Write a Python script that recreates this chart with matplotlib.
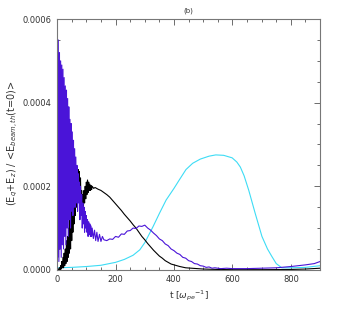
import numpy as np
import matplotlib
matplotlib.use('Agg')
import matplotlib.pyplot as plt
from matplotlib.ticker import MultipleLocator

## values, in units of 1e-4
t_blue = [0, 2, 4, 6, 8, 10, 12, 14, 16, 18, 20, 22, 24, 26, 28, 30, 32, 34, 36, 38,
          40, 42, 44, 46, 48, 50, 52, 54, 56, 58, 60, 62, 64, 66, 68, 70, 72, 74, 76, 78,
          80, 82, 84, 86, 88, 90, 92, 94, 96, 98, 100, 102, 104, 106, 108, 110, 112, 114,
          116, 118, 120, 124, 128, 132, 136, 140, 145, 150, 155, 160, 170, 180, 190, 200,
          210, 220, 230, 240, 250, 260, 270, 280, 290, 300, 310, 320, 330, 340, 350, 360,
          370, 380, 390, 400, 410, 420, 430, 440, 450, 460, 470, 480, 490, 500, 510, 520,
          530, 540, 560, 580, 600, 650, 700, 750, 800, 850, 880, 900]
e_blue = [5.7, 0.3, 5.5, 0.2, 5.2, 0.5, 5.0, 0.3, 4.9, 0.6, 4.8, 0.5, 4.6, 0.8, 4.4, 0.6,
          4.3, 1.0, 4.1, 0.8, 3.9, 1.2, 3.6, 1.0, 3.5, 1.4, 3.3, 1.3, 3.1, 1.5, 2.9, 1.5,
          2.7, 1.6, 2.5, 1.4, 2.3, 1.6, 2.1, 1.2, 2.0, 1.3, 1.8, 1.0, 1.6, 1.1, 1.5, 0.9,
          1.4, 1.0, 1.3, 0.9, 1.2, 0.8, 1.15, 0.85, 1.1, 0.8, 1.05, 0.8, 1.0, 0.75, 0.95,
          0.7, 0.9, 0.68, 0.85, 0.68, 0.8, 0.72, 0.7, 0.74, 0.73, 0.8, 0.78, 0.86, 0.85,
          0.93, 0.94, 1.0, 0.99, 1.05, 1.04, 1.07, 1.0, 0.95, 0.88, 0.82, 0.74, 0.7, 0.62,
          0.58, 0.5, 0.46, 0.4, 0.37, 0.3, 0.28, 0.22, 0.2, 0.15, 0.14, 0.1, 0.09, 0.06,
          0.07, 0.04, 0.05, 0.03, 0.04, 0.03, 0.03, 0.04, 0.05, 0.08, 0.12, 0.15, 0.2]

t_black = [0, 2, 4, 6, 8, 10, 12, 14, 16, 18, 20, 22, 24, 26, 28, 30, 32, 34, 36, 38,
           40, 42, 44, 46, 48, 50, 52, 54, 56, 58, 60, 62, 64, 66, 68, 70, 72, 74, 76, 78,
           80, 82, 84, 86, 88, 90, 92, 94, 96, 98, 100, 102, 104, 106, 108, 110, 112, 114,
           116, 118, 120, 125, 130, 140, 150, 160, 170, 180, 190, 200, 210, 220, 230, 240,
           250, 260, 270, 280, 290, 300, 310, 320, 330, 340, 350, 360, 370, 380, 390, 400,
           420, 440, 460, 480, 500, 550, 600, 700, 800, 850, 900]
e_black = [0, 0, 0.02, 0.0, 0.05, 0.0, 0.1, 0.02, 0.2, 0.05, 0.3, 0.05, 0.4, 0.1, 0.5, 0.15,
           0.7, 0.2, 0.8, 0.3, 1.0, 0.4, 1.2, 0.5, 1.4, 0.7, 1.6, 0.9, 1.8, 1.1, 2.0, 1.3,
           2.2, 1.5, 2.3, 1.7, 2.4, 1.8, 2.35, 1.7, 2.2, 1.5, 1.9, 1.4, 1.8, 1.5, 1.9, 1.6,
           2.0, 1.7, 2.1, 1.8, 2.15, 1.85, 2.1, 1.9, 2.05, 1.9, 2.02, 1.92, 2.0, 1.95, 1.97,
           1.93, 1.9, 1.85, 1.8, 1.74, 1.66, 1.58, 1.5, 1.42, 1.33, 1.25, 1.17, 1.08, 1.0,
           0.9, 0.8, 0.72, 0.63, 0.55, 0.47, 0.4, 0.33, 0.28, 0.22, 0.18, 0.14, 0.12,
           0.08, 0.05, 0.04, 0.03, 0.02, 0.01, 0.005, 0.005, 0.01, 0.02, 0.04]

t_cyan = [0, 50, 100, 150, 200, 230, 260, 283, 300, 328, 350, 373, 400, 418, 441, 464,
          490, 520, 543, 570, 599, 615, 627, 640, 656, 678, 701, 720, 735, 750, 769, 800,
          850, 900]
e_cyan = [0.05, 0.06, 0.08, 0.11, 0.18, 0.25, 0.35, 0.48, 0.65, 1.03, 1.35, 1.67, 1.95,
          2.15, 2.4, 2.55, 2.65, 2.72, 2.75, 2.74, 2.68, 2.58, 2.46, 2.25, 1.9, 1.35, 0.8,
          0.5, 0.32, 0.15, 0.05, 0.05, 0.06, 0.1]

yticks = [0, 0.0002, 0.0004, 0.0006]
ylabels = ['0.0000', '0.0002', '0.0004', '0.0006']
xticks = [0, 200, 400, 600, 800]


def main():
    fig = plt.figure(figsize=(3.38, 3.12), dpi=100)
    ax = fig.add_axes([0.169, 0.135, 0.778, 0.804])

    ax.plot(t_cyan, np.array(e_cyan) * 1e-4, color='#3ddcf5', lw=0.8)
    ax.plot(t_black, np.array(e_black) * 1e-4, color='black', lw=0.8)
    ax.plot(t_blue, np.array(e_blue) * 1e-4, color='#4a14d8', lw=0.8)

    ax.set_xlim(0, 900)
    ax.set_ylim(0, 0.0006)
    ax.set_xticks(xticks)
    ax.set_yticks(yticks)
    ax.set_yticklabels(ylabels)
    ax.xaxis.set_minor_locator(MultipleLocator(50))
    ax.yaxis.set_minor_locator(MultipleLocator(0.00005))
    ax.tick_params(which='both', direction='in', top=True, right=True,
                   labelsize=6, colors='#555555', labelcolor='#333333', width=0.6)
    ax.tick_params(which='major', length=4, pad=4)
    ax.tick_params(which='minor', length=2)
    for s in ax.spines.values():
        s.set_color('#777777')
        s.set_linewidth(0.8)

    ax.set_xlabel(r't [$\omega_{pe}$$^{-1}$]', fontsize=6.5, color='#333333', labelpad=3)
    fig.text(13 / 338, 0.54, r'(E$_q$+E$_z$) / <E$_{beam,th}$(t=0)>', fontsize=7,
             color='#333333', rotation=90, ha='center', va='center')
    ax.set_title('(b)', fontsize=5, pad=5, color='#333333')

    plt.savefig('out.png', dpi=100)
    plt.close()


if __name__ == "__main__":
    main()
